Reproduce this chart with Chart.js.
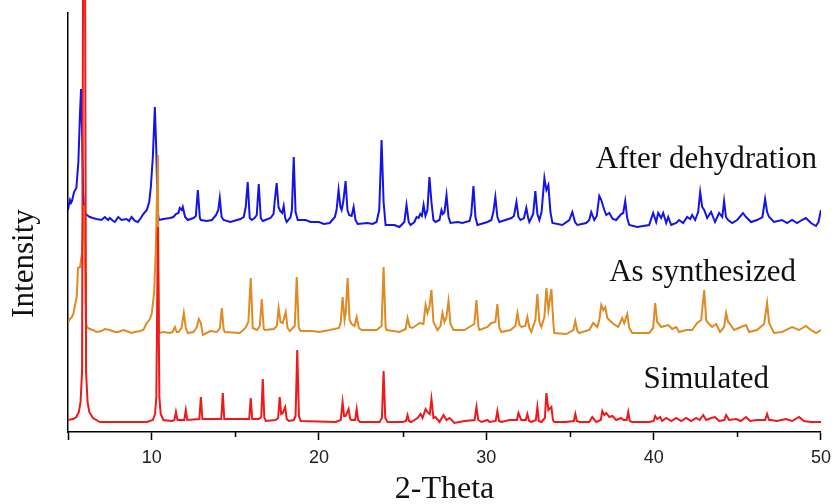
<!DOCTYPE html>
<html>
<head>
<meta charset="utf-8">
<script src="https://cdn.jsdelivr.net/npm/chart.js@4.4.1/dist/chart.umd.min.js"></script>
<style>
  body { margin: 0; background: #fff; }
  #wrap { width: 838px; height: 504px; }
</style>
</head>
<body>
<div id="wrap"><canvas id="xrd" width="838" height="504"></canvas></div>
<script>
// [2-theta, intensity] pairs, traces already offset
var afterDehydration = [
  [5.00,222],[5.06,228],[5.12,232],[5.18,229],[5.24,231],[5.36,240],[5.50,244],[5.62,270],[5.72,320],[5.78,343],
  [5.84,300],[5.90,240],[5.96,222],[6.01,219],[6.13,217],[6.30,215],[6.49,214],[6.70,213],[7.00,212],[7.20,215],
  [7.40,212],[7.50,214],[7.70,211],[7.80,210],[8.00,215],[8.20,212],[8.50,213],[8.65,211],[8.80,215],[9.00,211],
  [9.18,210],[9.35,214],[9.50,218],[9.71,222],[9.85,230],[9.95,245],[10.07,275],[10.19,325],[10.28,280],[10.36,220],
  [10.43,212],[10.70,213],[11.09,214],[11.30,215],[11.45,218],[11.60,219],[11.68,224],[11.80,222],[11.86,225],[12.00,215],
  [12.16,212],[12.50,214],[12.64,216],[12.76,242],[12.88,214],[12.94,212],[13.30,211],[13.60,212],[13.85,217],[13.98,222],
  [14.07,234],[14.18,215],[14.30,212],[14.70,210],[15.30,213],[15.50,215],[15.62,225],[15.74,250],[15.86,214],[15.98,212],
  [16.15,214],[16.28,217],[16.40,248],[16.52,214],[16.64,211],[17.10,214],[17.28,218],[17.36,232],[17.47,249],[17.58,225],
  [17.68,221],[17.80,219],[17.89,226],[17.98,214],[18.07,210],[18.30,215],[18.38,222],[18.49,275],[18.60,220],[18.73,212],
  [19.20,212],[19.50,210],[20.00,210],[20.30,208],[20.64,209],[20.95,215],[21.05,222],[21.17,242],[21.28,225],[21.35,222],
  [21.45,230],[21.59,251],[21.70,222],[21.80,217],[21.95,216],[22.07,225],[22.18,212],[22.31,208],[22.90,209],[23.20,208],
  [23.44,210],[23.60,222],[23.74,292],[23.86,230],[23.98,207],[24.50,207],[24.81,205],[25.10,210],[25.23,227],[25.36,210],
  [25.47,207],[25.70,210],[25.83,215],[25.95,214],[26.05,218],[26.15,216],[26.25,227],[26.36,216],[26.48,222],[26.60,255],
  [26.72,230],[26.84,212],[26.96,210],[27.20,212],[27.32,222],[27.40,218],[27.50,220],[27.62,237],[27.74,215],[27.86,209],
  [28.30,210],[28.57,209],[29.00,211],[29.10,218],[29.23,246],[29.35,215],[29.47,207],[30.07,210],[30.30,212],[30.42,220],
  [30.54,235],[30.66,215],[30.78,210],[31.50,214],[31.65,216],[31.80,230],[31.92,215],[32.04,212],[32.25,214],[32.39,224],
  [32.50,214],[32.57,210],[32.80,218],[32.93,241],[33.05,218],[33.17,212],[33.30,220],[33.47,254],[33.59,242],[33.71,247],
  [33.83,220],[33.95,209],[34.54,207],[34.96,212],[35.14,220],[35.30,210],[35.44,207],[35.97,209],[36.15,212],[36.27,220],
  [36.45,212],[36.60,216],[36.75,236],[36.87,232],[37.05,222],[37.17,217],[37.35,219],[37.55,213],[37.76,212],[38.06,218],
  [38.18,219],[38.30,231],[38.42,214],[38.54,207],[39.02,205],[39.73,207],[39.97,219],[40.15,210],[40.27,219],[40.45,214],
  [40.57,219],[40.75,209],[40.87,215],[41.05,207],[41.35,209],[41.52,212],[41.76,209],[42.00,215],[42.18,213],[42.30,217],
  [42.48,212],[42.66,220],[42.78,240],[42.90,225],[43.02,222],[43.20,214],[43.43,220],[43.67,210],[43.91,219],[44.10,215],
  [44.21,231],[44.32,215],[44.45,212],[44.69,209],[44.99,212],[45.34,219],[45.52,215],[45.82,210],[46.18,212],[46.50,215],
  [46.66,233],[46.78,220],[46.90,215],[47.19,210],[47.67,212],[47.97,209],[48.27,212],[48.57,209],[48.86,212],[49.10,214],
  [49.40,209],[49.70,206],[49.85,210],[50.00,222]
];

var asSynthesized = [
  [5.00,109],[5.10,113],[5.24,115],[5.32,118],[5.42,127],[5.52,135],[5.60,164],[5.72,165],[5.84,179],[5.90,215],
  [5.95,227],[6.02,160],[6.07,110],[6.13,105],[6.30,103],[6.49,102],[6.70,100],[7.00,101],[7.20,103],[7.50,102],
  [7.80,100],[8.00,100],[8.30,102],[8.50,101],[8.80,99],[9.00,100],[9.30,101],[9.50,102],[9.71,109],[9.90,113],
  [10.01,119],[10.15,140],[10.25,185],[10.37,277],[10.41,150],[10.45,99],[10.70,100],[11.09,99],[11.25,100],[11.39,105],
  [11.50,100],[11.60,100],[11.78,104],[11.92,119],[12.04,104],[12.16,99],[12.50,100],[12.70,105],[12.82,113],[12.94,109],
  [13.06,97],[13.50,101],[13.90,100],[14.08,104],[14.19,124],[14.30,103],[14.37,100],[15.27,99],[15.60,104],[15.78,110],
  [15.92,154],[16.04,104],[16.30,102],[16.46,106],[16.58,133],[16.70,103],[16.76,102],[17.30,103],[17.48,106],[17.59,124],
  [17.70,110],[17.83,109],[18.01,120],[18.12,104],[18.25,101],[18.55,106],[18.67,155],[18.79,104],[18.91,101],[19.60,101],
  [20.00,100],[20.64,102],[21.20,104],[21.30,110],[21.41,135],[21.53,112],[21.60,120],[21.71,154],[21.83,112],[21.95,108],
  [22.12,106],[22.25,115],[22.38,104],[22.55,102],[23.44,102],[23.74,106],[23.86,165],[23.98,105],[24.04,102],[24.81,100],
  [25.18,103],[25.29,114],[25.42,105],[25.59,104],[26.01,109],[26.24,108],[26.37,127],[26.48,119],[26.60,125],[26.72,142],
  [26.84,110],[27.08,102],[27.26,106],[27.38,119],[27.50,110],[27.62,115],[27.74,131],[27.86,108],[28.04,102],[28.69,102],
  [29.28,108],[29.41,132],[29.53,105],[29.59,102],[30.07,105],[30.30,109],[30.54,110],[30.66,128],[30.78,104],[30.90,100],
  [31.44,102],[31.74,106],[31.86,119],[31.98,107],[32.09,105],[32.33,106],[32.45,115],[32.57,104],[32.69,100],[32.93,112],
  [33.05,138],[33.17,110],[33.29,105],[33.47,115],[33.59,144],[33.71,122],[33.89,143],[34.00,110],[34.06,99],[34.78,98],
  [35.20,102],[35.32,111],[35.44,101],[35.56,99],[36.15,102],[36.39,109],[36.63,105],[36.75,112],[36.87,127],[36.99,122],
  [37.11,125],[37.23,114],[37.35,112],[37.53,109],[37.88,105],[38.12,114],[38.24,109],[38.42,118],[38.54,104],[38.72,99],
  [39.14,99],[39.73,99],[39.97,104],[40.09,129],[40.21,110],[40.45,105],[40.87,107],[41.11,103],[41.35,105],[41.52,100],
  [41.94,102],[42.30,102],[42.60,109],[42.84,112],[43.02,142],[43.14,112],[43.20,110],[43.49,105],[43.73,108],[43.97,100],
  [44.21,105],[44.33,119],[44.45,110],[44.51,109],[44.81,102],[45.22,105],[45.52,107],[45.70,100],[46.18,102],[46.60,108],
  [46.78,129],[46.90,109],[47.19,99],[47.67,100],[48.27,105],[48.69,102],[49.10,106],[49.40,102],[49.70,99],[50.00,102]
];

var simulated = [
  [5.00,12],[5.30,13],[5.50,15],[5.65,20],[5.75,30],[5.84,60],[5.90,450],[6.02,450],[6.08,60],[6.17,30],
  [6.27,20],[6.49,14],[6.91,10],[9.71,10],[10.07,12],[10.20,18],[10.28,35],[10.37,205],[10.46,35],[10.54,18],
  [10.70,12],[11.20,11],[11.36,12],[11.45,20],[11.54,12],[11.95,12],[12.04,22],[12.13,12],[12.85,13],[12.94,35],
  [13.03,13],[14.16,13],[14.25,39],[14.34,13],[15.83,13],[15.92,34],[16.01,13],[16.40,13],[16.55,15],[16.64,53],
  [16.73,15],[16.82,11],[17.40,12],[17.56,14],[17.65,35],[17.74,18],[17.83,19],[17.98,25],[18.07,13],[18.20,11],
  [18.49,12],[18.60,16],[18.70,82],[18.80,16],[18.91,11],[21.00,10],[21.30,12],[21.41,30],[21.50,16],[21.59,16],
  [21.77,23],[21.86,13],[21.95,12],[22.16,12],[22.25,23],[22.34,12],[22.45,10],[23.62,10],[23.76,14],[23.86,61],
  [23.96,14],[24.10,10],[25.00,10],[25.20,11],[25.29,17],[25.38,11],[25.50,10],[25.89,14],[26.07,18],[26.19,14],
  [26.37,23],[26.48,20],[26.62,18],[26.72,33],[26.84,14],[26.96,15],[27.20,10],[27.44,17],[27.62,12],[27.80,14],
  [28.10,9],[28.69,11],[29.30,12],[29.41,25],[29.52,12],[29.71,10],[30.07,12],[30.19,10],[30.56,11],[30.66,21],
  [30.76,11],[30.90,10],[31.38,12],[31.83,12],[31.92,19],[32.09,12],[32.36,12],[32.45,18],[32.56,11],[32.69,10],
  [32.96,12],[33.05,25],[33.14,11],[33.29,10],[33.50,14],[33.59,39],[33.71,22],[33.89,25],[33.98,12],[34.06,10],
  [34.72,10],[35.23,11],[35.32,18],[35.41,11],[35.56,10],[36.15,10],[36.33,15],[36.57,10],[36.84,12],[36.93,21],
  [37.05,17],[37.17,19],[37.35,15],[37.53,16],[37.76,12],[38.06,14],[38.20,12],[38.39,12],[38.48,20],[38.57,11],
  [38.72,10],[39.14,10],[39.73,10],[40.00,11],[40.09,16],[40.21,13],[40.39,15],[40.51,11],[40.75,14],[41.05,11],
  [41.35,14],[41.64,11],[41.94,14],[42.24,11],[42.54,14],[42.75,12],[42.96,17],[43.14,12],[43.43,14],[43.67,15],
  [43.91,11],[44.22,12],[44.33,17],[44.51,12],[44.93,13],[45.20,11],[45.52,15],[45.76,11],[46.18,12],[46.66,12],
  [46.78,18],[46.90,12],[47.01,12],[47.37,11],[47.91,13],[48.27,11],[48.69,15],[48.98,11],[49.40,10],[50.00,10]
];

var seriesNames = ['Simulated', 'As synthesized', 'After dehydration'];
var seriesColors = ['#f01818', '#df8a22', '#1414e6'];
var xTickValues = [10, 20, 30, 40, 50];

function toPoints(pairs) {
  return pairs.map(function(p) { return {x: p[0], y: p[1]}; });
}

var serif = '"Liberation Serif", "Times New Roman", serif';

// text next to each trace, the y title and the short minor ticks
var extrasPlugin = {
  id: 'extras',
  afterDraw: function(chart) {
    var ctx = chart.ctx;
    var xs = chart.scales.x;
    var ys = chart.scales.y;
    var spots = [[46.9, 44], [48.51, 151], [49.76, 264]];
    ctx.save();
    ctx.fillStyle = '#111';
    ctx.font = '31px ' + serif;
    ctx.textAlign = 'right';
    ctx.textBaseline = 'alphabetic';
    for (var i = 0; i < seriesNames.length; i++) {
      ctx.fillText(seriesNames[i], xs.getPixelForValue(spots[i][0]), ys.getPixelForValue(spots[i][1]));
    }
    ctx.save();
    ctx.translate(33, (ys.top + ys.bottom) / 2 + 41);
    ctx.rotate(-Math.PI / 2);
    ctx.textAlign = 'center';
    ctx.fillText('Intensity', 0, 0);
    ctx.restore();

    ctx.strokeStyle = '#000';
    ctx.lineWidth = 1.5;
    for (var v = 15; v < 50; v += 10) {
      var px = Math.round(xs.getPixelForValue(v)) + 0.5;
      ctx.beginPath();
      ctx.moveTo(px, xs.top);
      ctx.lineTo(px, xs.top + 5);
      ctx.stroke();
    }
    ctx.restore();
  }
};

var datasets = [simulated, asSynthesized, afterDehydration].map(function(series, i) {
  return {
    label: seriesNames[i],
    data: toPoints(series),
    borderColor: seriesColors[i],
    borderWidth: 2,
    pointRadius: 0,
    tension: 0,
    fill: false,
    clip: {left: 0, right: 0, bottom: 0, top: 14}
  };
});

var ctx = document.getElementById('xrd').getContext('2d');
var xrdChart = new Chart(ctx, {
  type: 'line',
  data: {datasets: datasets},
  plugins: [extrasPlugin],
  options: {
    responsive: false,
    animation: false,
    events: [],
    layout: {padding: {left: 0, top: 13, right: 16, bottom: 0}},
    plugins: {legend: {display: false}, tooltip: {enabled: false}},
    scales: {
      x: {
        type: 'linear',
        min: 5,
        max: 50,
        afterFit: function(scale) { scale.height = 72; },
        afterBuildTicks: function(scale) {
          scale.ticks = [5].concat(xTickValues).map(function(v) { return {value: v}; });
        },
        ticks: {
          autoSkip: false,
          maxRotation: 0,
          padding: 7,
          color: '#222',
          font: {family: '"Liberation Sans Narrow", "Liberation Sans", Arial, sans-serif', size: 18},
          callback: function(v) { return xTickValues.indexOf(v) >= 0 ? String(v) : ''; }
        },
        grid: {drawOnChartArea: false, drawTicks: true, tickLength: 8, tickWidth: 1.5, color: '#000'},
        border: {display: true, color: '#000', width: 1.5},
        title: {
          display: true,
          text: '2-Theta',
          color: '#111',
          font: {family: serif, size: 32},
          padding: {top: 0, bottom: -5}
        }
      },
      y: {
        type: 'linear',
        min: 0,
        max: 419,
        afterFit: function(scale) { scale.width = 68; },
        ticks: {display: false},
        grid: {display: false},
        border: {display: true, color: '#000', width: 1.5}
      }
    }
  }
});
</script>
</body>
</html>
